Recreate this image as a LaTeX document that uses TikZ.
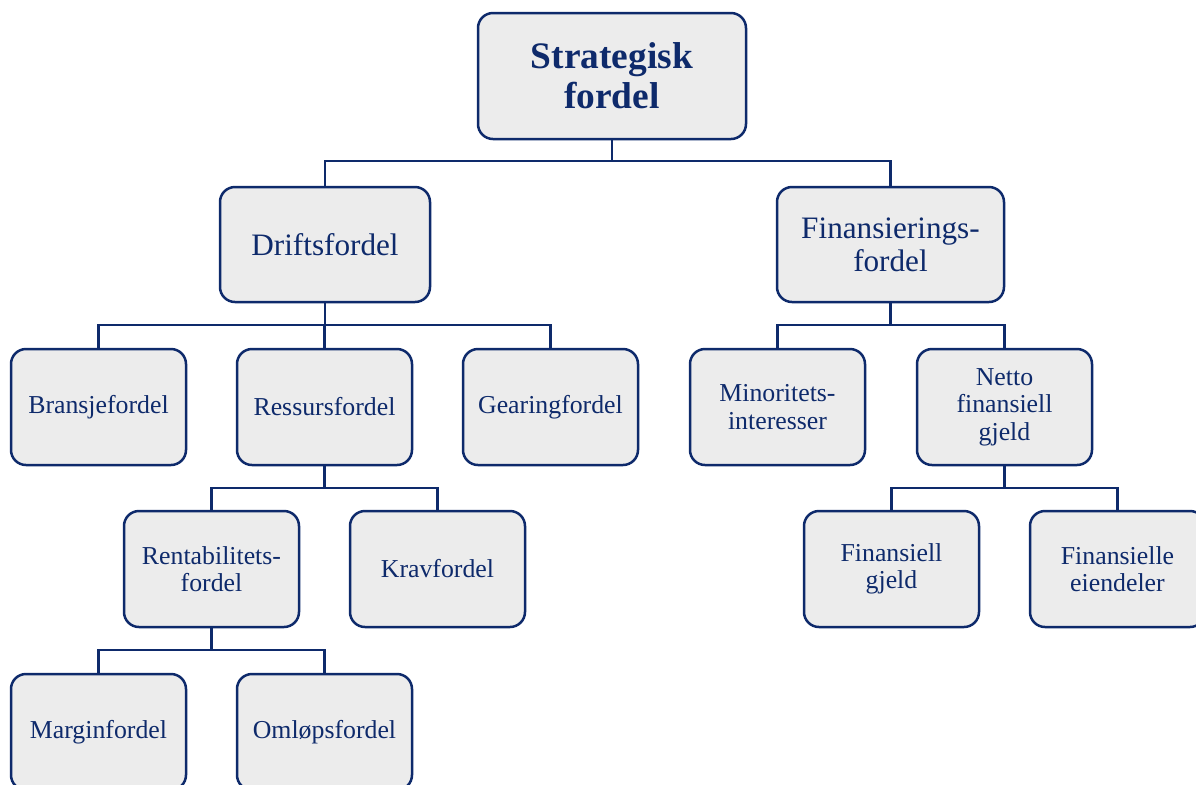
\documentclass[tikz,border=0pt]{standalone}
\usepackage{fontspec}
\setmainfont{Liberation Serif}
\definecolor{navy}{HTML}{0E2A6B}
\definecolor{boxfill}{HTML}{ECECEC}
\begin{document}
\begin{tikzpicture}[x=0.5pt,y=-0.5pt,
  box/.style={draw=navy,fill=boxfill,line width=1.25pt,rounded corners=7.5pt,
    text=navy,align=center,inner sep=2pt},
  topbox/.style={box,minimum width=134pt,minimum height=63pt,
    font=\fontsize{18.7}{20}\selectfont\bfseries},
  midbox/.style={box,minimum height=57.5pt,font=\fontsize{15.6}{16.5}\selectfont},
  leaf/.style={box,minimum width=87.5pt,minimum height=58pt,
    font=\fontsize{12.9}{13.8}\selectfont},
  link/.style={draw=navy,line width=1.25pt}]
\useasboundingbox (0,0) rectangle (1196,784);

% top level
\node[topbox] (top) at (612,76) {Strategisk\\fordel};

% second level
\node[midbox,minimum width=105pt] (drift) at (325,244.5) {Driftsfordel};
\node[midbox,minimum width=113.5pt] (finans) at (890.5,244.5) {Finansierings-\\fordel};

% third level
\node[leaf] (bransje) at (98.5,407) {Bransjefordel};
\node[leaf] (ressurs) at (324.5,407) {Ressursfordel};
\node[leaf] (gearing) at (550.5,407) {Gearingfordel};
\node[leaf] (minoritet) at (777.5,407) {Minoritets-\\interesser};
\node[leaf] (netto) at (1004.5,407) {Netto\\finansiell\\gjeld};

% fourth level
\node[leaf] (rentab) at (211.5,569) {Rentabilitets-\\fordel};
\node[leaf] (krav) at (437.5,569) {Kravfordel};
\node[leaf] (fgjeld) at (891.5,569) {Finansiell\\gjeld};
\node[leaf] (feiend) at (1117.5,569) {Finansielle\\eiendeler};

% fifth level
\node[leaf] (margin) at (98.5,732) {Marginfordel};
\node[leaf] (omlop) at (324.5,732) {Omløpsfordel};

% tree connectors
\foreach \child in {drift,finans}
  \draw[link] (top.south) -- (top.south |- 0,161) -| (\child.north);
\foreach \child in {bransje,ressurs,gearing}
  \draw[link] (drift.south) -- (drift.south |- 0,325) -| (\child.north);
\foreach \child in {minoritet,netto}
  \draw[link] (finans.south) -- (finans.south |- 0,325) -| (\child.north);
\foreach \child in {rentab,krav}
  \draw[link] (ressurs.south) -- (ressurs.south |- 0,488) -| (\child.north);
\foreach \child in {fgjeld,feiend}
  \draw[link] (netto.south) -- (netto.south |- 0,488) -| (\child.north);
\foreach \child in {margin,omlop}
  \draw[link] (rentab.south) -- (rentab.south |- 0,650) -| (\child.north);
\end{tikzpicture}
\end{document}
